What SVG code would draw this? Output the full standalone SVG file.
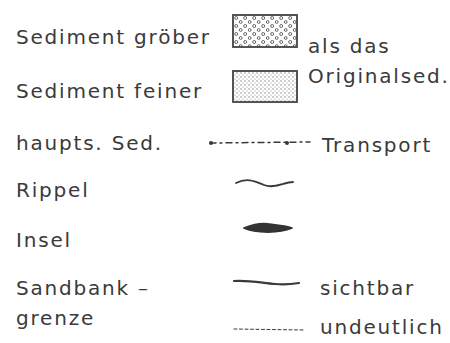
<svg xmlns="http://www.w3.org/2000/svg" width="450" height="343" viewBox="0 0 450 343">
<style>
text{font-family:"DejaVu Sans","Liberation Sans",sans-serif;font-size:20px;fill:#3a3a3a;letter-spacing:1.8px}
.ln{fill:none;stroke:#3a3a3a;stroke-linecap:round}
</style>
<defs>
<pattern id="coarse" width="9" height="8" patternUnits="userSpaceOnUse">
<circle cx="2.2" cy="2" r="1.5" fill="none" stroke="#555" stroke-width="0.9"/>
<circle cx="6.7" cy="6" r="1.4" fill="none" stroke="#555" stroke-width="0.9"/>
</pattern>
<pattern id="fine" width="4" height="4" patternUnits="userSpaceOnUse">
<circle cx="1" cy="1" r="0.7" fill="#777"/>
<circle cx="3" cy="3" r="0.6" fill="#888"/>
</pattern>
</defs>
<rect width="450" height="343" fill="#fff"/>
<text x="16" y="44">Sediment gröber</text>
<text x="16" y="98">Sediment feiner</text>
<text x="16" y="150">haupts. Sed.</text>
<text x="16" y="197">Rippel</text>
<text x="16" y="247">Insel</text>
<text x="16" y="295">Sandbank –</text>
<text x="16" y="325">grenze</text>
<text x="308" y="53">als das</text>
<text x="308" y="83">Originalsed.</text>
<text x="322" y="152">Transport</text>
<text x="320" y="295">sichtbar</text>
<text x="320" y="334">undeutlich</text>
<rect x="233" y="15" width="64" height="32" fill="url(#coarse)" stroke="#444" stroke-width="1.8"/>
<rect x="233" y="71" width="64" height="31" fill="url(#fine)" stroke="#444" stroke-width="1.8"/>
<path class="ln" d="M210 143 L310 142" stroke-width="1.5" stroke-dasharray="6 4 2 4"/>
<circle cx="211" cy="143" r="2" fill="#3a3a3a"/>
<circle cx="287" cy="143" r="2" fill="#3a3a3a"/>
<path class="ln" d="M236 183 C248 177 256 182 264 185 C274 189 284 182 293 182" stroke-width="1.8"/>
<path d="M244 228 C252 225 262 223 268 224 C276 225 286 226 292 228 C285 231 276 232 268 232 C260 232 250 231 244 228 Z" fill="#333" stroke="#333" stroke-width="1.8" stroke-linejoin="round"/>
<path class="ln" d="M234 281 C250 280 262 283 275 284 C285 285 293 284 299 283" stroke-width="2.2"/>
<path class="ln" d="M234 329 L304 330" stroke-width="1" stroke-dasharray="3 2.5"/>
</svg>
